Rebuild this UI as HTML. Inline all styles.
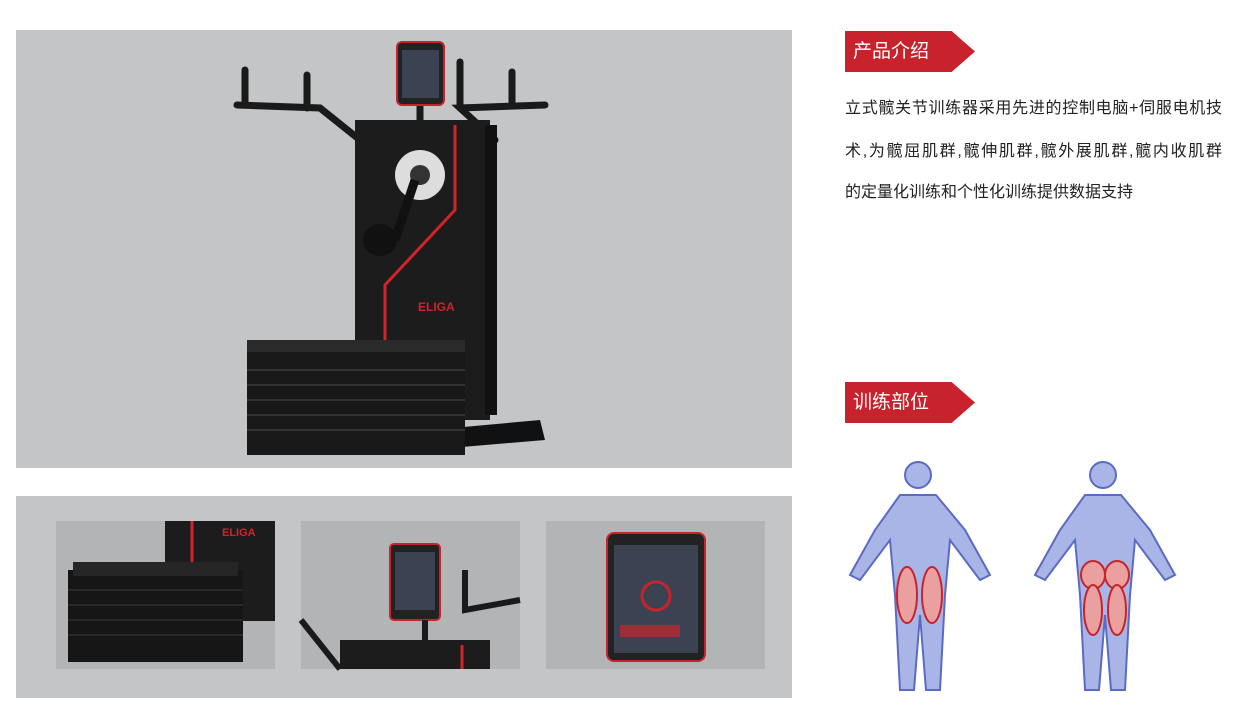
<!DOCTYPE html>
<html><head><meta charset="utf-8"><style>
body{margin:0;width:1239px;height:716px;background:#fff;position:relative;overflow:hidden;font-family:"Liberation Sans","Noto Sans CJK SC",sans-serif}
.a{position:absolute}
.tag{position:absolute;left:845px;width:130px;height:41px;background:#c8232c;clip-path:polygon(0 0,82% 0,100% 50%,82% 100%,0 100%);color:#fff;font-size:19px;line-height:41px;padding-left:8px;box-sizing:border-box}
.txt{position:absolute;left:845px;width:377px;font-size:16px;color:#222;text-align:justify;text-align-last:justify;white-space:nowrap}
.txt.l{text-align-last:left}
</style></head><body>
<div class="a" style="left:16px;top:30px;width:776px;height:438px;background:#c4c5c7"></div>
<div class="a" style="left:16px;top:496px;width:776px;height:202px;background:#c4c5c7"></div>
<div class="a" style="left:56px;top:521px;width:219px;height:148px;background:#b3b4b6"></div>
<div class="a" style="left:301px;top:521px;width:219px;height:148px;background:#b3b4b6"></div>
<div class="a" style="left:546px;top:521px;width:219px;height:148px;background:#b3b4b6"></div>
<svg class="a" style="left:0;top:0" width="800" height="716">
<g stroke="#1a1a1a" stroke-width="7" fill="none" stroke-linecap="round">
<path d="M237 105 L320 108 L360 140"/><path d="M545 105 L460 108 L495 140"/>
<path d="M245 70 V105 M307 75 V108 M460 62 V108 M512 72 V105"/>
<path d="M420 100 V122"/>
</g>
<rect x="355" y="120" width="135" height="300" fill="#1c1c1d"/>
<rect x="485" y="125" width="12" height="290" fill="#111"/>
<path d="M455 125 V210 L385 285 V345" stroke="#d0242a" stroke-width="3" fill="none"/>
<circle cx="420" cy="175" r="25" fill="#ddd"/><circle cx="420" cy="175" r="10" fill="#333"/>
<path d="M415 180 L395 240" stroke="#111" stroke-width="9"/>
<ellipse cx="380" cy="240" rx="17" ry="16" fill="#111"/>
<text x="418" y="311" fill="#d0242a" font-size="12" font-weight="bold" font-family="Liberation Sans">ELIGA</text>
<path d="M430 430 L540 420 L545 440 L450 448 Z" fill="#111"/>
<rect x="247" y="345" width="218" height="110" fill="#181818"/>
<g stroke="#3a3a3a" stroke-width="1.5"><path d="M247 370H465M247 385H465M247 400H465M247 415H465M247 430H465"/></g>
<rect x="247" y="340" width="218" height="12" fill="#2a2a2a"/>
<rect x="397" y="42" width="47" height="63" rx="5" fill="#222" stroke="#c8232c" stroke-width="2"/>
<rect x="402" y="50" width="37" height="48" fill="#3b4352"/>
<rect x="165" y="521" width="110" height="100" fill="#1c1c1d"/>
<path d="M192 521V580" stroke="#d0242a" stroke-width="3"/>
<text x="222" y="536" fill="#d0242a" font-size="11" font-weight="bold" font-family="Liberation Sans">ELIGA</text>
<rect x="68" y="570" width="175" height="92" fill="#161616"/>
<g stroke="#3a3a3a"><path d="M68 590H243M68 605H243M68 620H243M68 635H243"/></g>
<rect x="73" y="562" width="165" height="14" fill="#262626"/>
<rect x="390" y="544" width="50" height="76" rx="4" fill="#222" stroke="#c8232c" stroke-width="2"/>
<rect x="395" y="552" width="40" height="58" fill="#3b4352"/>
<path d="M425 620V645 M465 570V610 L520 600 M301 620 L340 669" stroke="#1a1a1a" stroke-width="6" fill="none"/>
<rect x="340" y="640" width="150" height="29" fill="#1c1c1d"/>
<path d="M462 645V669" stroke="#d0242a" stroke-width="3"/>
<rect x="607" y="533" width="98" height="128" rx="7" fill="#222" stroke="#c8232c" stroke-width="2"/>
<rect x="614" y="545" width="84" height="108" fill="#3b4352"/>
<circle cx="656" cy="596" r="14" fill="none" stroke="#c8232c" stroke-width="3"/>
<rect x="620" y="625" width="60" height="12" fill="#c8232c" opacity=".7"/>
</svg>
<div class="tag" style="top:31px">产品介绍</div>
<div class="txt" style="top:94px">立式髋关节训练器采用先进的控制电脑+伺服电机技</div>
<div class="txt" style="top:137px">术,为髋屈肌群,髋伸肌群,髋外展肌群,髋内收肌群</div>
<div class="txt l" style="top:178px">的定量化训练和个性化训练提供数据支持</div>
<div class="tag" style="top:382px">训练部位</div>
<svg class="a" style="left:840px;top:455px" width="360" height="245">
<g fill="#a8b5e6" stroke="#5b6bc2" stroke-width="2">
<circle cx="78" cy="20" r="13"/><path d="M60 40 H96 L125 75 L150 120 L140 125 L110 85 L105 140 L100 235 H86 L80 160 L74 235 H60 L55 140 L50 85 L20 125 L10 120 L35 75 Z"/>
<circle cx="263" cy="20" r="13"/><path d="M245 40 H281 L310 75 L335 120 L325 125 L295 85 L290 140 L285 235 H271 L265 160 L259 235 H245 L240 140 L235 85 L205 125 L195 120 L220 75 Z"/>
</g>
<g fill="#eba0a0" stroke="#c8232c" stroke-width="2">
<ellipse cx="67" cy="140" rx="10" ry="28"/><ellipse cx="92" cy="140" rx="10" ry="28"/>
<ellipse cx="253" cy="120" rx="12" ry="14"/><ellipse cx="277" cy="120" rx="12" ry="14"/>
<ellipse cx="253" cy="155" rx="9" ry="25"/><ellipse cx="277" cy="155" rx="9" ry="25"/>
</g></svg>
</body></html>
